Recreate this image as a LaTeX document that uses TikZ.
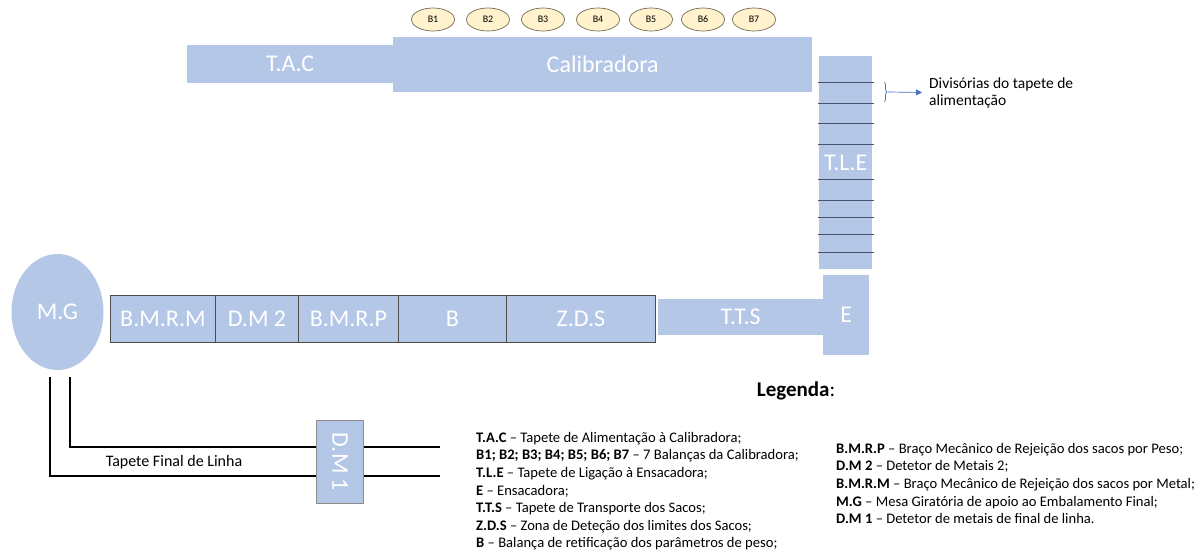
\documentclass[tikz,border=0pt]{standalone}
\usepackage{fontspec}
\setmainfont{Carlito}
\usetikzlibrary{shapes.geometric,arrows.meta,decorations.pathreplacing}
\definecolor{beltblue}{RGB}{180,199,231}
\definecolor{scalefill}{RGB}{255,242,204}
\definecolor{scaleedge}{RGB}{115,105,85}
\definecolor{divline}{RGB}{68,84,106}
\definecolor{notearrow}{RGB}{68,114,196}
\begin{document}
\begin{tikzpicture}[x=1pt,y=-1pt,
		belt/.style={fill=beltblue,anchor=north west,inner sep=0pt,text=white,font=\fontsize{24}{28}\selectfont},
		cell/.style={belt,draw=black!70,line width=0.9pt},
		scale box/.style={ellipse,draw=scaleedge,fill=scalefill,line width=0.7pt,minimum width=43pt,minimum height=23pt,inner sep=0pt,font=\fontsize{10}{12}\selectfont},
		line/.style={line width=1.3pt,black},
		legend/.style={anchor=north west,align=left,inner sep=0pt,font=\fontsize{14.6}{17.6}\selectfont}]
		\useasboundingbox (0,0) rectangle (1200,551);

		\node[belt,minimum width=206pt,minimum height=38pt] (tac) at (187,45) {T.A.C};
		\node[belt,minimum width=419pt,minimum height=55pt] (calib) at (393,37) {Calibradora};
		\foreach \x [count=\i] in {433,488,543,598,651,703,754}
			\node[scale box] (b\i) at (\x,19.5) {B\i};

		\node[belt,minimum width=53pt,minimum height=213pt] (tle) at (819,56) {T.L.E};
		\foreach \y in {82,103,123,144,179,200,217,234,252}
			\draw[divline,line width=0.9pt] (818,\y) -- (874,\y);
		\draw[notearrow,line width=0.7pt,decorate,decoration={brace,amplitude=3pt}] (884,82) -- (884,102)
			coordinate[pos=0.5,xshift=4pt] (brace);
		\node[anchor=west,align=left,inner sep=0pt,font=\fontsize{15.5}{17}\selectfont] (div) at (929,92.5) {Divisórias do tapete de\\alimentação};
		\draw[notearrow,line width=0.7pt,-{Triangle[length=6pt,width=6pt]}] (brace) -- ([xshift=-7pt]div.west);

		\node[belt,minimum width=46pt,minimum height=80pt] (e) at (823,275) {E};
		\node[belt,minimum width=165pt,minimum height=36pt] (tts) at (658,299) {T.T.S};

		\node[cell,minimum width=105pt,minimum height=47pt] (bmrm) at (110,295) {B.M.R.M};
		\node[cell,minimum width=83pt,minimum height=47pt] (dm2) at (215,295) {D.M 2};
		\node[cell,minimum width=100pt,minimum height=47pt] (bmrp) at (298,295) {B.M.R.P};
		\node[cell,minimum width=108pt,minimum height=47pt] (bal) at (398,295) {B};
		\node[cell,minimum width=149pt,minimum height=47pt] (zds) at (506,295) {Z.D.S};

		\node[ellipse,fill=beltblue,minimum width=92pt,minimum height=116pt,inner sep=0pt,text=white,font=\fontsize{24}{28}\selectfont] (mg) at (57.5,312) {M.G};

		\coordinate (outerStart) at (50,377);
		\coordinate (innerStart) at (70,377);
		\coordinate (outerEnd) at (440,476);
		\coordinate (innerEnd) at (440,447);
		\draw[line] (outerStart) |- (outerEnd);
		\draw[line] (innerStart) |- (innerEnd);
		\node[font=\fontsize{16}{19}\selectfont] (tfl) at (174,462) {Tapete Final de Linha};
		\node[belt,draw=black!45,line width=0.9pt,minimum width=47pt,minimum height=83pt] (dm1) at (316,420) {};
		\node[text=white,rotate=-90,font=\fontsize{24}{28}\selectfont] at (dm1.center) {D.M 1};

		\node[font=\fontsize{21}{25}\selectfont] (leg) at (796,391) {\textbf{Legenda}:};
		\node[legend] (legleft) at (476,432) {\textbf{T.A.C} – Tapete de Alimentação à Calibradora;\\
			\textbf{B1; B2; B3; B4; B5; B6; B7} – 7 Balanças da Calibradora;\\
			\textbf{T.L.E} – Tapete de Ligação à Ensacadora;\\
			\textbf{E} – Ensacadora;\\
			\textbf{T.T.S} – Tapete de Transporte dos Sacos;\\
			\textbf{Z.D.S} – Zona de Deteção dos limites dos Sacos;\\
			\textbf{B} – Balança de retificação dos parâmetros de peso;};
		\node[legend] (legright) at (836,443) {\textbf{B.M.R.P} – Braço Mecânico de Rejeição dos sacos por Peso;\\
			\textbf{D.M 2} – Detetor de Metais 2;\\
			\textbf{B.M.R.M} – Braço Mecânico de Rejeição dos sacos por Metal;\\
			\textbf{M.G} – Mesa Giratória de apoio ao Embalamento Final;\\
			\textbf{D.M 1} – Detetor de metais de final de linha.};
	\end{tikzpicture}
\end{document}
